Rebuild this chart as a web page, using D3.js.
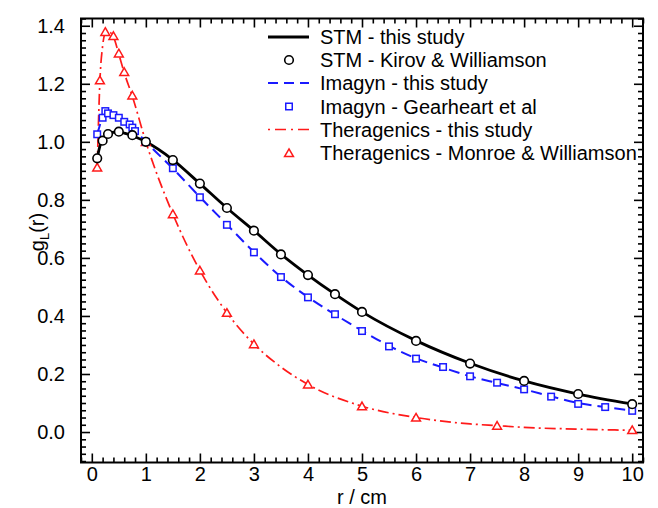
<!DOCTYPE html>
<html>
<head>
<meta charset="utf-8">
<script src="https://cdn.jsdelivr.net/npm/d3@7"></script>
<style>
  html, body { margin: 0; padding: 0; background: #fff; }
  svg text { font-family: "Liberation Sans", Arial, Helvetica, sans-serif; }
</style>
</head>
<body>
<svg id="chart" width="658" height="508"></svg>
<script>
// ---------- DATA ----------
const xTicks = [0, 1, 2, 3, 4, 5, 6, 7, 8, 9, 10];
const yTicks = [0.0, 0.2, 0.4, 0.6, 0.8, 1.0, 1.2, 1.4];
const yTickLabels = ["0.0", "0.2", "0.4", "0.6", "0.8", "1.0", "1.2", "1.4"];

// STM - this study (line)
const stmLineR = [0.1, 0.15, 0.2, 0.25, 0.3, 0.4, 0.5, 0.6, 0.75, 1, 1.5, 2, 2.5, 3, 3.5, 4, 4.5, 5, 6, 7, 8, 9, 10];
const stmLineG = [0.943, 0.985, 1.006, 1.018, 1.026, 1.033, 1.034, 1.030, 1.021, 1.0, 0.938, 0.856, 0.772, 0.694, 0.613, 0.541, 0.475, 0.414, 0.315, 0.237, 0.176, 0.131, 0.097];
// STM - Kirov & Williamson (circles)
const stmRefR = [0.1, 0.2, 0.3, 0.5, 0.75, 1, 1.5, 2, 2.5, 3, 3.5, 4, 4.5, 5, 6, 7, 8, 9, 10];
const stmRefG = [0.943, 1.004, 1.027, 1.035, 1.023, 1.0, 0.937, 0.856, 0.772, 0.694, 0.612, 0.541, 0.475, 0.414, 0.314, 0.236, 0.176, 0.131, 0.096];

// Imagyn - this study (line)
const imgLineR = [0.1, 0.2, 0.25, 0.3, 0.4, 0.5, 0.6, 0.7, 0.8, 0.9, 1, 1.5, 2, 2.5, 3, 3.5, 4, 4.5, 5, 5.5, 6, 6.5, 7, 7.5, 8, 8.5, 9, 9.5, 10];
const imgLineG = [1.025, 1.085, 1.102, 1.100, 1.092, 1.083, 1.070, 1.058, 1.040, 1.020, 1.0, 0.908, 0.810, 0.715, 0.620, 0.535, 0.465, 0.405, 0.349, 0.297, 0.254, 0.222, 0.192, 0.169, 0.147, 0.123, 0.100, 0.086, 0.074];
// Imagyn - Gearheart et al (squares)
const imgRefR = [0.1, 0.2, 0.25, 0.3, 0.4, 0.5, 0.6, 0.7, 0.75, 0.8, 1, 1.5, 2, 2.5, 3, 3.5, 4, 4.5, 5, 5.5, 6, 6.5, 7, 7.5, 8, 8.5, 9, 9.5, 10];
const imgRefG = [1.026, 1.083, 1.106, 1.098, 1.092, 1.083, 1.069, 1.060, 1.049, 1.037, 1.0, 0.909, 0.809, 0.714, 0.619, 0.534, 0.464, 0.406, 0.348, 0.295, 0.253, 0.224, 0.192, 0.170, 0.147, 0.122, 0.097, 0.086, 0.073];

// Theragenics - this study (line)
const thrLineR = [0.1, 0.15, 0.2, 0.25, 0.3, 0.4, 0.5, 0.6, 0.75, 1, 1.5, 2, 2.5, 3, 3.5, 4, 5, 6, 7, 7.5, 8, 9, 10];
const thrLineG = [0.91, 1.21, 1.33, 1.375, 1.38, 1.362, 1.302, 1.238, 1.157, 1.0, 0.751, 0.557, 0.411, 0.303, 0.224, 0.164, 0.089, 0.050, 0.028, 0.022, 0.016, 0.010, 0.006];
// Theragenics - Monroe & Williamson (triangles)
const thrRefR = [0.1, 0.15, 0.25, 0.4, 0.5, 0.6, 0.75, 1, 1.5, 2, 2.5, 3, 4, 5, 6, 7.5, 10];
const thrRefG = [0.912, 1.212, 1.379, 1.365, 1.305, 1.241, 1.160, 1.0, 0.751, 0.557, 0.411, 0.303, 0.164, 0.089, 0.050, 0.022, 0.007];

const legendLabels = [
  "STM - this study",
  "STM - Kirov & Williamson",
  "Imagyn - this study",
  "Imagyn - Gearheart et al",
  "Theragenics - this study",
  "Theragenics - Monroe & Williamson"
];

// ---------- LAYOUT ----------
const svg = d3.select("#chart");
const L = 81, R = 643, T = 18.5, B = 462.5;
const x = d3.scaleLinear().domain([-0.2, 10.2]).range([L, R]);
const y = d3.scaleLinear().domain([-0.105, 1.425]).range([B, T]);

const xMinor = d3.range(-0.2, 10.21, 0.2).map(v => +v.toFixed(2)).filter(v => !xTicks.includes(v) && v >= -0.2 && v <= 10.2);
const yMinor = d3.range(-0.1, 1.4251, 0.025).map(v => +v.toFixed(3)).filter(v => !yTicks.some(t => Math.abs(t - v) < 1e-6));

const FS = 20;
const MAJ = 9, MIN = 5;

function styleAxis(g) {
  g.select(".domain").remove();
  g.selectAll(".tick line").attr("stroke", "#000").attr("stroke-width", 1.6);
  g.selectAll(".tick text").attr("font-size", FS).attr("fill", "#000").attr("font-family", '"Liberation Sans", Arial, sans-serif');
}

// bottom
svg.append("g").attr("transform", `translate(0,${B})`)
  .call(d3.axisBottom(x).tickValues(xTicks).tickSize(-MAJ).tickPadding(4).tickFormat(d3.format("d")))
  .call(styleAxis);
svg.append("g").attr("transform", `translate(0,${B})`)
  .call(d3.axisBottom(x).tickValues(xMinor).tickSize(-MIN).tickFormat(""))
  .call(styleAxis);
// top
svg.append("g").attr("transform", `translate(0,${T})`)
  .call(d3.axisTop(x).tickValues(xTicks).tickSize(-MAJ).tickFormat(""))
  .call(styleAxis);
svg.append("g").attr("transform", `translate(0,${T})`)
  .call(d3.axisTop(x).tickValues(xMinor).tickSize(-MIN).tickFormat(""))
  .call(styleAxis);
// left
svg.append("g").attr("transform", `translate(${L},0)`)
  .call(d3.axisLeft(y).tickValues(yTicks).tickSize(-MAJ).tickPadding(16).tickFormat((d, i) => yTickLabels[i]))
  .call(styleAxis);
svg.append("g").attr("transform", `translate(${L},0)`)
  .call(d3.axisLeft(y).tickValues(yMinor).tickSize(-MIN).tickFormat(""))
  .call(styleAxis);
// right
svg.append("g").attr("transform", `translate(${R},0)`)
  .call(d3.axisRight(y).tickValues(yTicks).tickSize(-MAJ).tickFormat(""))
  .call(styleAxis);
svg.append("g").attr("transform", `translate(${R},0)`)
  .call(d3.axisRight(y).tickValues(yMinor).tickSize(-MIN).tickFormat(""))
  .call(styleAxis);

// frame
svg.append("rect").attr("x", L).attr("y", T).attr("width", R - L).attr("height", B - T)
  .attr("fill", "none").attr("stroke", "#000").attr("stroke-width", 2);

// axis labels
svg.append("text").attr("x", (L + R) / 2).attr("y", 504).attr("text-anchor", "middle")
  .attr("font-size", FS).text("r / cm");
const yl = svg.append("text").attr("transform", "translate(44,232) rotate(-90)")
  .attr("text-anchor", "middle").attr("font-size", FS);
yl.append("tspan").text("g");
yl.append("tspan").attr("font-size", 13).attr("dy", 5).text("L");
yl.append("tspan").attr("dy", -5).text("(r)");

// ---------- MARKS ----------
const plot = svg.append("g");
const lineGen = (rs, gs) => d3.line().x((d, i) => x(rs[i])).y((d, i) => y(gs[i])).curve(d3.curveMonotoneX)(rs);

const styles = {
  stm: { color: "#000000", width: 2.8, dash: null },
  img: { color: "#1a1aff", width: 2, dash: "11,6" },
  thr: { color: "#ff1a1a", width: 1.7, dash: "11,4,2,4" }
};

plot.append("path").attr("d", lineGen(thrLineR, thrLineG)).attr("fill", "none")
  .attr("stroke", styles.thr.color).attr("stroke-width", styles.thr.width).attr("stroke-dasharray", styles.thr.dash);
plot.append("path").attr("d", lineGen(imgLineR, imgLineG)).attr("fill", "none")
  .attr("stroke", styles.img.color).attr("stroke-width", styles.img.width).attr("stroke-dasharray", styles.img.dash);
plot.append("path").attr("d", lineGen(stmLineR, stmLineG)).attr("fill", "none")
  .attr("stroke", styles.stm.color).attr("stroke-width", styles.stm.width);

const triSym = d3.symbol().type(d3.symbolTriangle).size(34);
const sqSz = 6.5;

function drawCircle(g, cx, cy) {
  g.append("circle").attr("cx", cx).attr("cy", cy).attr("r", 4.3)
    .attr("fill", "#fff").attr("stroke", "#000").attr("stroke-width", 1.6);
}
function drawSquare(g, cx, cy) {
  g.append("rect").attr("x", cx - sqSz / 2).attr("y", cy - sqSz / 2).attr("width", sqSz).attr("height", sqSz)
    .attr("fill", "#fff").attr("stroke", styles.img.color).attr("stroke-width", 1.5);
}
function drawTri(g, cx, cy) {
  g.append("path").attr("d", triSym).attr("transform", `translate(${cx},${cy + 1})`)
    .attr("fill", "#fff").attr("stroke", styles.thr.color).attr("stroke-width", 1.5);
}

thrRefR.forEach((r, i) => drawTri(plot, x(r), y(thrRefG[i])));
imgRefR.forEach((r, i) => drawSquare(plot, x(r), y(imgRefG[i])));
stmRefR.forEach((r, i) => drawCircle(plot, x(r), y(stmRefG[i])));

// ---------- LEGEND ----------
const leg = svg.append("g");
const rowY = [37, 60, 83, 106.5, 129.5, 153];
const lx0 = 268, lx1 = 309, mx = 289, tx = 320;
leg.append("line").attr("x1", lx0).attr("x2", lx1).attr("y1", rowY[0]).attr("y2", rowY[0])
  .attr("stroke", styles.stm.color).attr("stroke-width", styles.stm.width);
drawCircle(leg, mx, rowY[1]);
leg.append("line").attr("x1", lx0).attr("x2", lx1).attr("y1", rowY[2]).attr("y2", rowY[2])
  .attr("stroke", styles.img.color).attr("stroke-width", styles.img.width).attr("stroke-dasharray", "10,6");
drawSquare(leg, mx, rowY[3]);
leg.append("line").attr("x1", lx0).attr("x2", lx1).attr("y1", rowY[4]).attr("y2", rowY[4])
  .attr("stroke", styles.thr.color).attr("stroke-width", styles.thr.width).attr("stroke-dasharray", "2,5,11,5");
drawTri(leg, mx, rowY[5]);
legendLabels.forEach((t, i) => {
  leg.append("text").attr("x", tx).attr("y", rowY[i]).attr("dy", "0.36em")
    .attr("font-size", FS).attr("fill", "#000").text(t);
});
</script>
</body>
</html>
